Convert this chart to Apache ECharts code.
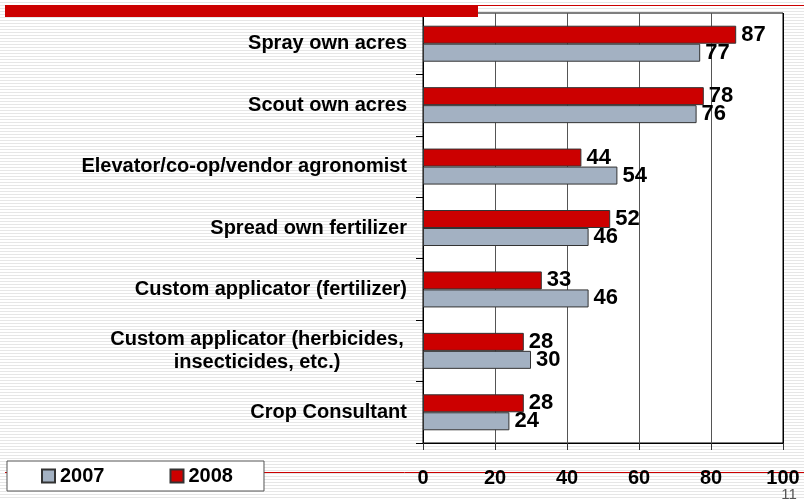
<!DOCTYPE html>
<html>
<head>
<meta charset="utf-8">
<script src="https://cdn.jsdelivr.net/npm/echarts@6/dist/echarts.min.js"></script>
<style>
  html, body { margin: 0; padding: 0; }
  #main {
    width: 804px;
    height: 500px;
    background: repeating-linear-gradient(to bottom, #ffffff 0px, #ffffff 2px, #e6e6e6 2px, #e6e6e6 3px);
  }
</style>
</head>
<body>
<div id="main"></div>
<script>
// categories, top to bottom
const categories = [
  "Spray own acres",
  "Scout own acres",
  "Elevator/co-op/vendor agronomist",
  "Spread own fertilizer",
  "Custom applicator (fertilizer)",
  "Custom applicator (herbicides,\ninsecticides, etc.)",
  "Crop Consultant",
];
const values2007 = [77, 76, 54, 46, 46, 30, 24];
const values2008 = [87, 78, 44, 52, 33, 28, 28];
const xTicks = [0, 20, 40, 60, 80, 100];

const FONT = "'Liberation Sans', Arial, sans-serif";

let chart = echarts.init(document.getElementById("main"), null, { renderer: "canvas" });

let option = {
  backgroundColor: "transparent",
  animation: false,
  textStyle: { fontFamily: FONT },
  grid: {
    left: 423,
    right: 21,
    top: 13,
    bottom: 57,
    show: true,
    backgroundColor: "#ffffff",
    borderColor: "#000000",
    borderWidth: 1,
  },
  legend: {
    left: 7,
    top: 461,
    data: ["2007", "2008"],
    icon: "rect",
    itemWidth: 13,
    itemHeight: 13,
    itemGap: 65,
    padding: [5, 31, 5, 34],
    backgroundColor: "#ffffff",
    borderColor: "#555555",
    borderWidth: 1,
    z: 10,
    textStyle: {
      fontFamily: FONT,
      fontWeight: "bold",
      fontSize: 20,
      color: "#000000",
      lineHeight: 20,
    },
  },
  xAxis: {
    type: "value",
    min: xTicks[0],
    max: xTicks[xTicks.length - 1],
    interval: 20,
    axisLine: { show: true, lineStyle: { color: "#000000", width: 1 } },
    axisTick: { show: true, length: 7, lineStyle: { color: "#333333" } },
    axisLabel: {
      margin: 25,
      fontFamily: FONT,
      fontWeight: "bold",
      fontSize: 20,
      color: "#000000",
    },
    splitLine: {
      show: true,
      lineStyle: { color: ["#000000", "#555555", "#555555", "#555555", "#555555", "#000000"], width: 1 },
    },
  },
  yAxis: {
    type: "category",
    inverse: true,
    data: categories,
    axisLine: { show: true, lineStyle: { color: "#000000", width: 1 } },
    axisTick: { show: true, length: 7, lineStyle: { color: "#000000" } },
    axisLabel: {
      margin: 16,
      fontFamily: FONT,
      fontWeight: "bold",
      fontSize: 20,
      color: "#000000",
      formatter: function (v) {
        if (v.indexOf("\n") >= 0) {
          return v.split("\n").map(function (s) { return "{c|" + s + "}"; }).join("\n");
        }
        return v;
      },
      rich: {
        c: {
          width: 300,
          align: "center",
          fontFamily: FONT,
          fontWeight: "bold",
          fontSize: 20,
          lineHeight: 23,
          color: "#000000",
        },
      },
    },
  },
  series: [
    {
      name: "2008",
      type: "bar",
      data: values2008,
      barWidth: 18,
      barGap: "0%",
      itemStyle: { color: "#CC0000", borderColor: "#333333", borderWidth: 1 },
      label: {
        show: true,
        position: "right",
        distance: 5,
        fontFamily: FONT,
        fontWeight: "bold",
        fontSize: 22,
        color: "#000000",
      },
    },
    {
      name: "2007",
      type: "bar",
      data: values2007,
      barWidth: 18,
      barGap: "0%",
      itemStyle: { color: "#A3B1C2", borderColor: "#333333", borderWidth: 1 },
      label: {
        show: true,
        position: "right",
        distance: 5,
        fontFamily: FONT,
        fontWeight: "bold",
        fontSize: 22,
        color: "#000000",
      },
    },
  ],
  graphic: [
    // slide decoration
    { type: "rect", z: 5, shape: { x: 5, y: 5, width: 473, height: 12 }, style: { fill: "#CC0000" } },
    { type: "line", z: 5, shape: { x1: 478, y1: 5.5, x2: 804, y2: 5.5 }, style: { stroke: "#CC0000", lineWidth: 1 } },
    { type: "line", z: -1, shape: { x1: 5, y1: 472.5, x2: 804, y2: 472.5 }, style: { stroke: "#CC0000", lineWidth: 1 } },
    {
      type: "text",
      z: 5,
      x: 789,
      y: 487,
      style: { text: "11", fontFamily: FONT, fontSize: 15, fill: "#555555", textAlign: "center" },
    },
  ],
};

option && chart.setOption(option);
</script>
</body>
</html>
